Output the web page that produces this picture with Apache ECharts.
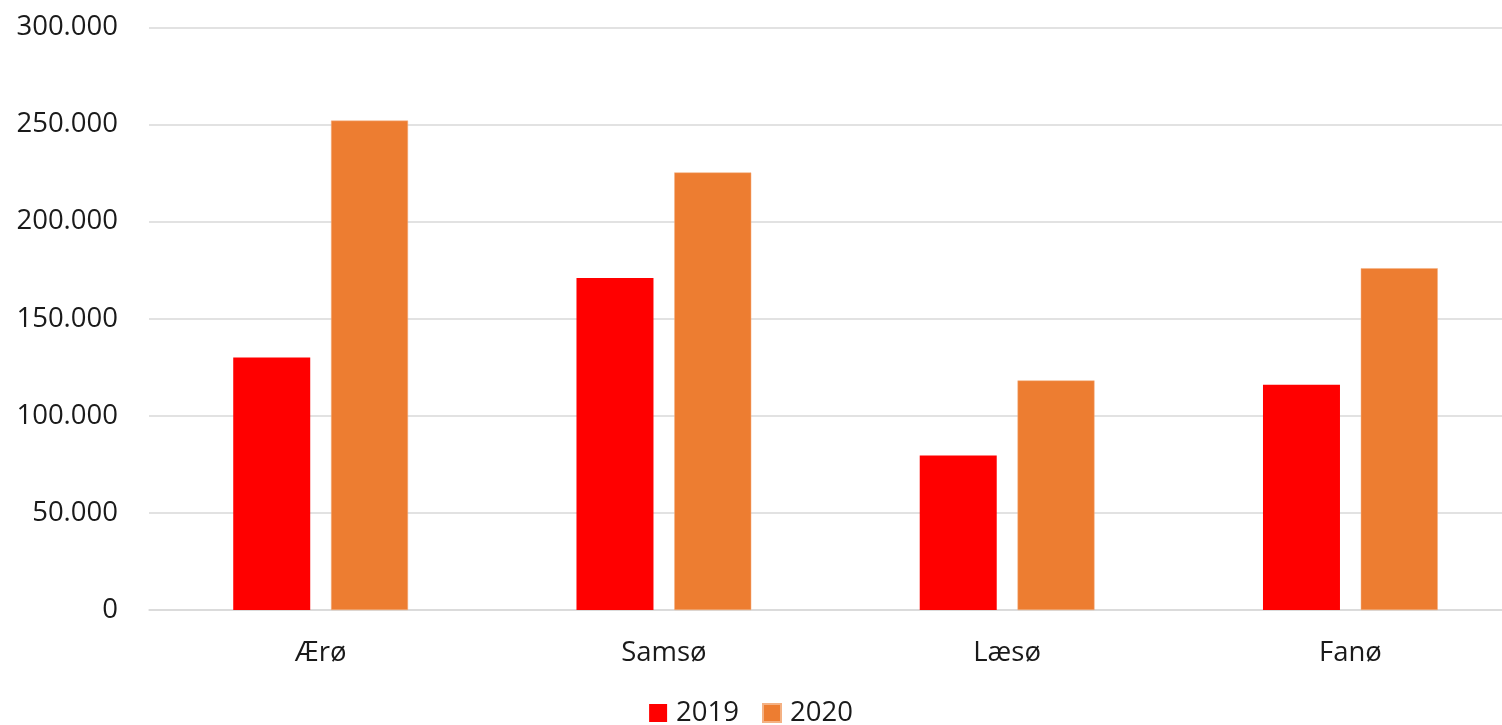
<!DOCTYPE html>
<html>
<head>
<meta charset="utf-8">
<script src="https://cdn.jsdelivr.net/npm/echarts@6/dist/echarts.min.js"></script>
<style>
html,body{margin:0;padding:0;background:#fff;}
#chart{width:1502px;height:725px;}
</style>
</head>
<body>
<div id="chart"></div>
<script>
const categories = ['Ærø', 'Samsø', 'Læsø', 'Fanø'];
const seriesNames = ['2019', '2020'];
const values2019 = [130000, 171000, 79600, 116000];
const values2020 = [252000, 225300, 118200, 176000];
const yTicks = { min: 0, max: 300000, interval: 50000 };

const FONT = 'Open Sans';
const chart = echarts.init(document.getElementById('chart'));
chart.setOption({
  backgroundColor: '#ffffff',
  animation: false,
  textStyle: { fontFamily: FONT },
  grid: { left: 149, right: -20, top: 27.4, bottom: 115, containLabel: false, outerBoundsMode: 'none' },
  legend: {
    data: seriesNames,
    top: 694,
    left: 'center',
    itemWidth: 18,
    itemHeight: 18,
    itemGap: 23,
    icon: 'rect',
    textStyle: { fontSize: 27.5, color: '#1a1a1a', fontFamily: FONT, padding: [0, 0, 0, 4] }
  },
  xAxis: {
    type: 'category',
    data: categories,
    axisLine: { show: true, lineStyle: { color: '#D9D9D9', width: 1.5 } },
    axisTick: { show: false },
    axisLabel: { fontSize: 27.5, color: '#1a1a1a', margin: 29, fontFamily: FONT }
  },
  yAxis: {
    type: 'value',
    min: yTicks.min,
    max: yTicks.max,
    interval: yTicks.interval,
    axisLine: { show: false },
    axisTick: { show: false },
    splitLine: { lineStyle: { color: '#D9D9D9', width: 1.5 } },
    axisLabel: {
      fontSize: 27.5, color: '#1a1a1a', margin: 31, fontFamily: FONT,
      formatter: v => v === 0 ? '0' : (v / 1000).toFixed(0) + '.000'
    }
  },
  series: [
    { name: seriesNames[0], type: 'bar', data: values2019, barWidth: 77, barGap: '27%',
      itemStyle: { color: '#FF0000' } },
    { name: seriesNames[1], type: 'bar', data: values2020, barWidth: 77, barGap: '27%',
      itemStyle: { color: '#ED7D31', borderColor: '#F4B183', borderWidth: 0.5 } }
  ]
});
</script>
</body>
</html>
